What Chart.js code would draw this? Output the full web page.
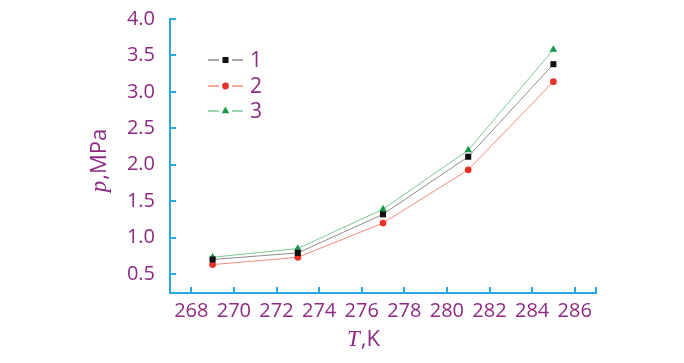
<!DOCTYPE html>
<html>
<head>
<meta charset="utf-8">
<script src="https://cdn.jsdelivr.net/npm/chart.js@4.4.0/dist/chart.umd.min.js"></script>
<style>
    html, body { margin: 0; padding: 0; background: #fff; }
    canvas { display: block; }
</style>
</head>
<body>
<canvas id="p_chart" width="684" height="363"></canvas>
<script>
// temperatures, K
const temps = [269, 273, 277, 281, 285]
// pressure, MPa
const series1 = [0.70, 0.79, 1.32, 2.11, 3.38]
const series2 = [0.63, 0.73, 1.20, 1.93, 3.14]
const series3 = [0.73, 0.85, 1.39, 2.20, 3.58]
const seriesNames = ['1', '2', '3']
const xTicks = [268, 270, 272, 274, 276, 278, 280, 282, 284, 286]
const yTicks = [0.5, 1.0, 1.5, 2.0, 2.5, 3.0, 3.5, 4.0]

const textColor = '#8e2a84'
const axisColor = '#29a8e0'
const tickFont = { family: 'Open Sans', size: 20 }

function toPoints(values) {
    return temps.map((t, i) => ({ x: t, y: values[i] }))
}

// ticks pointing into the plot, plus titles and the inner legend
const decorPlugin = {
    id: 'decor',
    afterDraw(chart) {
        const ctx = chart.ctx
        const area = chart.chartArea
        const x = chart.scales.x
        const y = chart.scales.y

        ctx.save()
        ctx.strokeStyle = axisColor
        ctx.lineWidth = 2
        ctx.beginPath()
        yTicks.forEach(v => {
            const py = Math.round(y.getPixelForValue(v))
            ctx.moveTo(area.left, py)
            ctx.lineTo(area.left + 6, py)
        })
        xTicks.forEach(v => {
            const px = Math.round(x.getPixelForValue(v))
            ctx.moveTo(px, area.bottom)
            ctx.lineTo(px, area.bottom - 6)
        })
        ctx.moveTo(area.right, area.bottom)
        ctx.lineTo(area.right, area.bottom - 6)
        ctx.stroke()

        // x title: italic T + ",K"
        ctx.fillStyle = textColor
        ctx.textBaseline = 'alphabetic'
        ctx.textAlign = 'left'
        const serif = 'italic 23px "Liberation Serif"'
        const sans = '22px "Open Sans"'
        ctx.font = serif
        const wT = ctx.measureText('T').width
        ctx.font = sans
        const wK = ctx.measureText(',K').width
        let sx = (area.left + area.right) / 2 - (wT + wK) / 2 - 20
        ctx.font = serif
        ctx.fillText('T', sx, 346)
        ctx.font = sans
        ctx.fillText(',K', sx + wT + 1, 346)

        // y title, rotated
        ctx.save()
        ctx.translate(106, 161)
        ctx.rotate(-Math.PI / 2)
        ctx.font = serif
        const wp = ctx.measureText('p').width
        ctx.font = sans
        const wM = ctx.measureText(',MPa').width
        let sy = -(wp + wM) / 2
        ctx.font = serif
        ctx.fillText('p', sy, 0)
        ctx.font = sans
        ctx.fillText(',MPa', sy + wp + 1, 0)
        ctx.restore()

        // legend inside the plot
        const rows = [60, 86, 111]
        chart.data.datasets.forEach((ds, i) => {
            const ly = rows[i]
            ctx.strokeStyle = ds.borderColor
            ctx.lineWidth = 1.5
            ctx.beginPath()
            ctx.moveTo(208, ly)
            ctx.lineTo(219, ly)
            ctx.moveTo(232, ly)
            ctx.lineTo(243, ly)
            ctx.stroke()
            ctx.fillStyle = ds.pointBackgroundColor
            ctx.strokeStyle = ds.pointBackgroundColor
            Chart.helpers.drawPoint(ctx, {
                pointStyle: ds.pointStyle,
                radius: ds.pointRadius,
                borderWidth: 0,
                rotation: 0
            }, 225.5, ly)
            ctx.fillStyle = textColor
            ctx.font = '21px "Open Sans"'
            ctx.textBaseline = 'middle'
            ctx.fillText(ds.label, 250, ly + 1)
        })
        ctx.restore()
    }
}

const ctx = document.getElementById('p_chart').getContext('2d')

new Chart(ctx, {
    type: 'line',
    data: {
        datasets: [
            {
                label: seriesNames[0],
                data: toPoints(series1),
                borderColor: '#8c8c8c',
                borderWidth: 1,
                pointStyle: 'rect',
                pointRadius: 4.3,
                pointBackgroundColor: '#111111',
                pointBorderWidth: 0,
                tension: 0,
            },
            {
                label: seriesNames[1],
                data: toPoints(series2),
                borderColor: '#f28a78',
                borderWidth: 1,
                pointStyle: 'circle',
                pointRadius: 3.4,
                pointBackgroundColor: '#e5332a',
                pointBorderWidth: 0,
                tension: 0,
            },
            {
                label: seriesNames[2],
                data: toPoints(series3),
                borderColor: '#7dc796',
                borderWidth: 1,
                pointStyle: 'triangle',
                pointRadius: 4.4,
                pointBackgroundColor: '#159a4a',
                pointBorderWidth: 0,
                tension: 0,
            },
        ],
    },
    options: {
        responsive: false,
        animation: false,
        devicePixelRatio: 1,
        layout: {
            padding: { left: 0, top: 19, right: 88, bottom: 0 },
        },
        plugins: {
            legend: { display: false },
            tooltip: { enabled: false },
        },
        scales: {
            x: {
                type: 'linear',
                min: 267,
                max: 287,
                afterBuildTicks: function (scale) {
                    scale.ticks = xTicks.map(v => ({ value: v }))
                },
                afterFit: function (scale) {
                    scale.height = 70
                    scale.paddingLeft = 0
                    scale.paddingRight = 0
                },
                grid: { display: false, drawTicks: false, tickLength: 0 },
                border: { display: true, color: axisColor, width: 2 },
                ticks: {
                    color: textColor,
                    font: tickFont,
                    padding: 6,
                    maxRotation: 0,
                    autoSkip: false,
                },
            },
            y: {
                min: 0.24,
                max: 4.0,
                afterBuildTicks: function (scale) {
                    scale.ticks = yTicks.map(v => ({ value: v }))
                },
                afterFit: function (scale) {
                    scale.width = 170
                    scale.paddingTop = 0
                    scale.paddingBottom = 0
                },
                grid: { display: false, drawTicks: false, tickLength: 0 },
                border: { display: true, color: axisColor, width: 2 },
                ticks: {
                    color: textColor,
                    font: tickFont,
                    padding: 15,
                    autoSkip: false,
                    callback: function (value) {
                        return Number(value).toFixed(1)
                    },
                },
            },
        },
    },
    plugins: [decorPlugin],
})
</script>
</body>
</html>
